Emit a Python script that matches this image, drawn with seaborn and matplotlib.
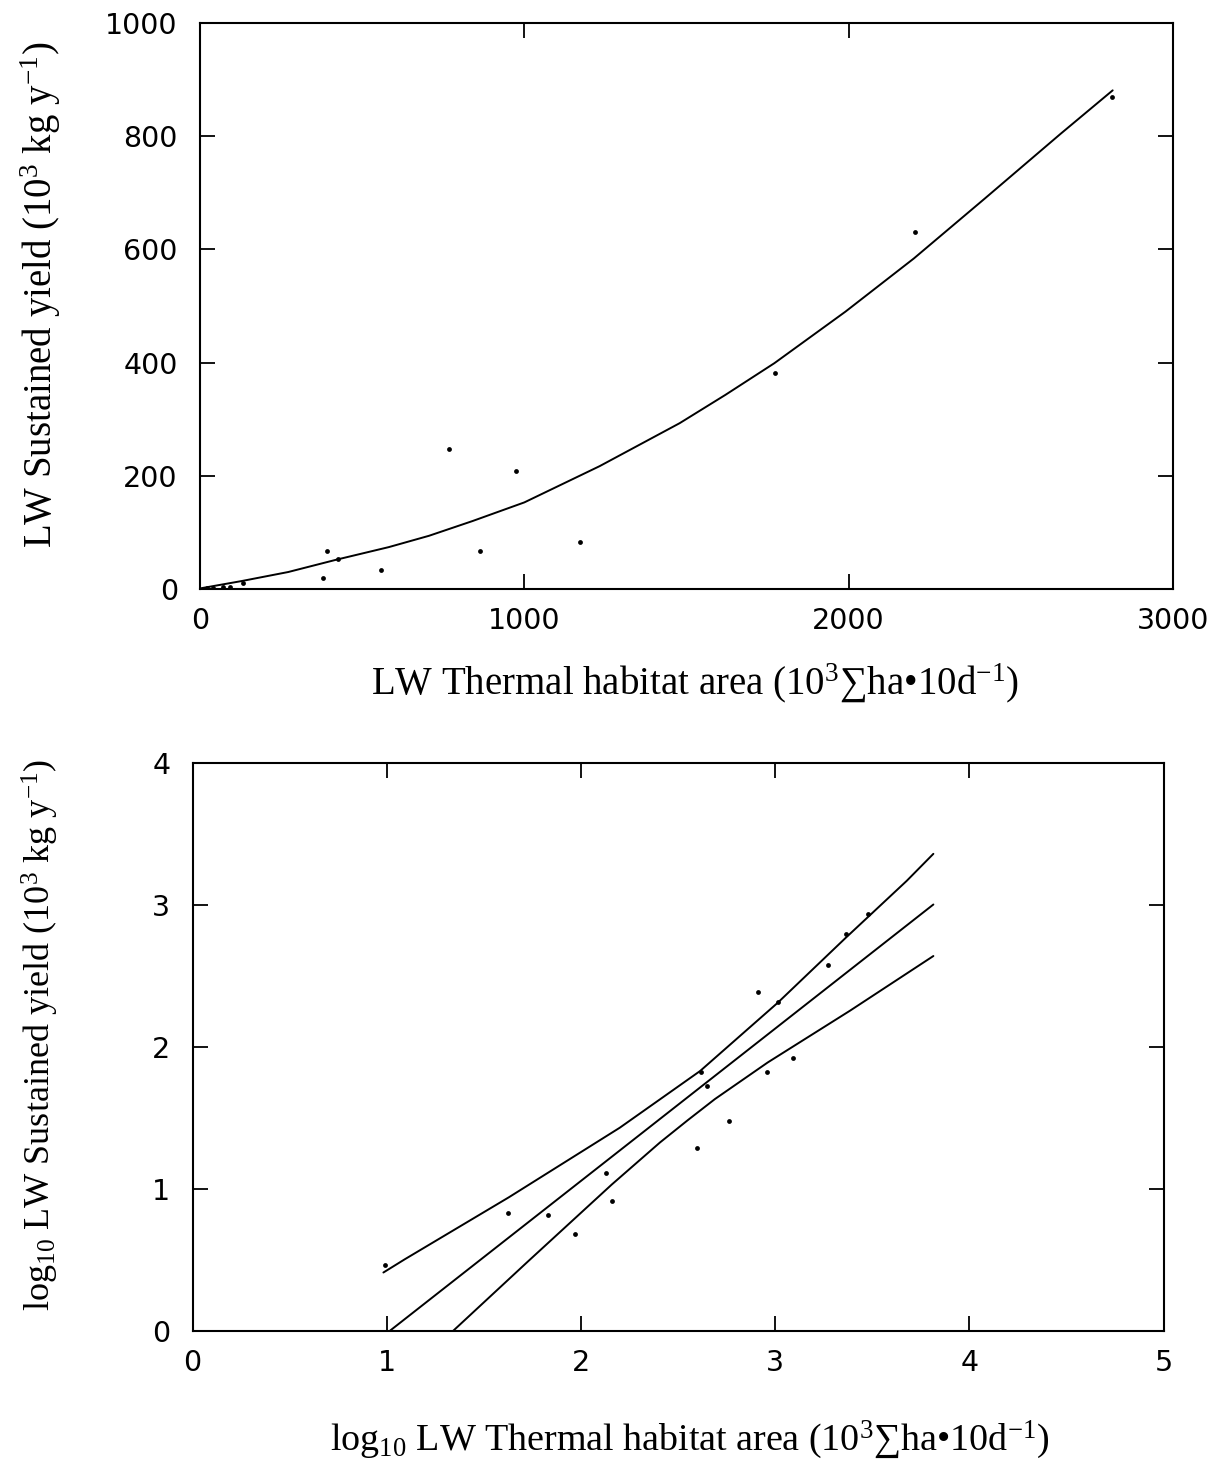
import numpy as np
import pandas as pd
import matplotlib
matplotlib.use("Agg")
import matplotlib.pyplot as plt
import seaborn as sns

# ---- data ----
# top panel: raw values
top_x = [2812, 2204, 1774, 769, 975, 1171, 864, 393, 427, 379, 559, 134, 72, 93, 40, 21]
top_y = [870, 630, 381, 248, 209, 83, 68, 68, 53, 20, 33, 11, 4, 4, 2, 1]
curve_x = [0, 128, 272, 422, 582, 706, 840, 1000, 1232, 1479, 1620, 1771, 1990,
           2201, 2420, 2653, 2814]
curve_y = [1, 14, 30, 52, 74, 94, 120, 153, 217, 293, 343, 399, 490,
           584, 690, 804, 881]

# bottom panel: log10 values
log_x = [0.991, 1.626, 1.832, 1.968, 2.129, 2.159, 2.598, 2.618, 2.651, 2.763,
         2.910, 2.960, 3.013, 3.094, 3.274, 3.365, 3.478]
log_y = [0.462, 0.831, 0.814, 0.682, 1.108, 0.917, 1.290, 1.821, 1.722, 1.480,
         2.385, 1.821, 2.315, 1.922, 2.574, 2.797, 2.934]
fit_x = [1.017, 3.815]
fit_y = [0.0, 3.003]
upper_x = [0.983, 1.094, 1.629, 2.200, 2.407, 2.614, 3.013, 3.365, 3.678, 3.815]
upper_y = [0.410, 0.504, 0.940, 1.430, 1.630, 1.830, 2.310, 2.770, 3.170, 3.360]
lower_x = [1.343, 1.729, 2.159, 2.407, 2.550, 2.690, 2.962, 3.386, 3.815]
lower_y = [0.000, 0.490, 1.030, 1.326, 1.483, 1.632, 1.890, 2.255, 2.640]

top_xticks = [0, 1000, 2000, 3000]
top_yticks = [0, 200, 400, 600, 800, 1000]
bot_xticks = [0, 1, 2, 3, 4, 5]
bot_yticks = [0, 1, 2, 3, 4]

# ---- style ----
sns.set_theme(style="ticks")
plt.rcParams["font.family"] = ["DejaVu Sans"]
plt.rcParams["mathtext.fontset"] = "custom"
plt.rcParams["mathtext.rm"] = "Liberation Serif"
plt.rcParams["mathtext.it"] = "Liberation Serif:italic"
plt.rcParams["mathtext.bf"] = "Liberation Serif:bold"

fig = plt.figure(figsize=(12.22, 14.67), dpi=100)
ax1 = fig.add_axes([200 / 1222, 1 - 589 / 1467, 973 / 1222, 566 / 1467])
ax2 = fig.add_axes([192.5 / 1222, 1 - 1330.7 / 1467, 971 / 1222, 567.7 / 1467])

lab_top = dict(family="Liberation Serif", size=28, color="black")
lab_bx = dict(family="Liberation Serif", size=27.4, color="black")
lab_by = dict(family="Liberation Serif", size=26, color="black")
tick_font_size = 20.5

# top panel
sns.lineplot(x=curve_x, y=curve_y, ax=ax1, color="black", linewidth=1.4,
             estimator=None, sort=True)
sns.scatterplot(x=top_x, y=top_y, ax=ax1, color="black", s=12, linewidth=0,
                zorder=3)
ax1.set_xlim(0, 3000)
ax1.set_ylim(0, 1000)
ax1.set_xticks(top_xticks)
ax1.set_yticks(top_yticks)

# bottom panel
for lx, ly in [(fit_x, fit_y), (upper_x, upper_y), (lower_x, lower_y)]:
    sns.lineplot(x=lx, y=ly, ax=ax2, color="black", linewidth=1.4,
                 estimator=None, sort=True)
sns.scatterplot(x=log_x, y=log_y, ax=ax2, color="black", s=12, linewidth=0,
                zorder=3)
ax2.set_xlim(0, 5)
ax2.set_ylim(0, 4)
ax2.set_xticks(bot_xticks)
ax2.set_yticks(bot_yticks)

for ax in (ax1, ax2):
    for sp in ax.spines.values():
        sp.set_visible(True)
        sp.set_linewidth(1.5)
        sp.set_color("black")
    ax.tick_params(direction="in", length=11, width=1.3, top=True, right=True,
                   colors="black", labelsize=tick_font_size)
    ax.tick_params(axis="y", pad=16)
    ax.tick_params(axis="x", pad=13)
    ax.grid(False)
    ax.set_facecolor("white")

ax1.set_xlabel(r"LW Thermal habitat area (10$^{3}$∑ha•10d$^{\mathrm{-1}}$)", **lab_top)
ax1.set_ylabel(r"LW Sustained yield (10$^{3}$ kg y$^{\mathrm{-1}}$)", **lab_top)
ax2.set_xlabel(r"log$_{10}$ LW Thermal habitat area (10$^{3}$∑ha•10d$^{\mathrm{-1}}$)", **lab_bx)
ax2.set_ylabel(r"log$_{10}$ LW Sustained yield (10$^{3}$ kg y$^{\mathrm{-1}}$)", **lab_by)

ax1.xaxis.set_label_coords(0.509, -0.166)
ax1.xaxis.label.set_va("center")
ax1.yaxis.set_label_coords(-0.164, 0.519)
ax1.yaxis.label.set_va("center")
ax2.xaxis.set_label_coords(0.512, -0.1925)
ax2.xaxis.label.set_va("center")
ax2.yaxis.set_label_coords(-0.157, 0.521)
ax2.yaxis.label.set_va("center")

fig.savefig("out.png", dpi=100, facecolor="white")
